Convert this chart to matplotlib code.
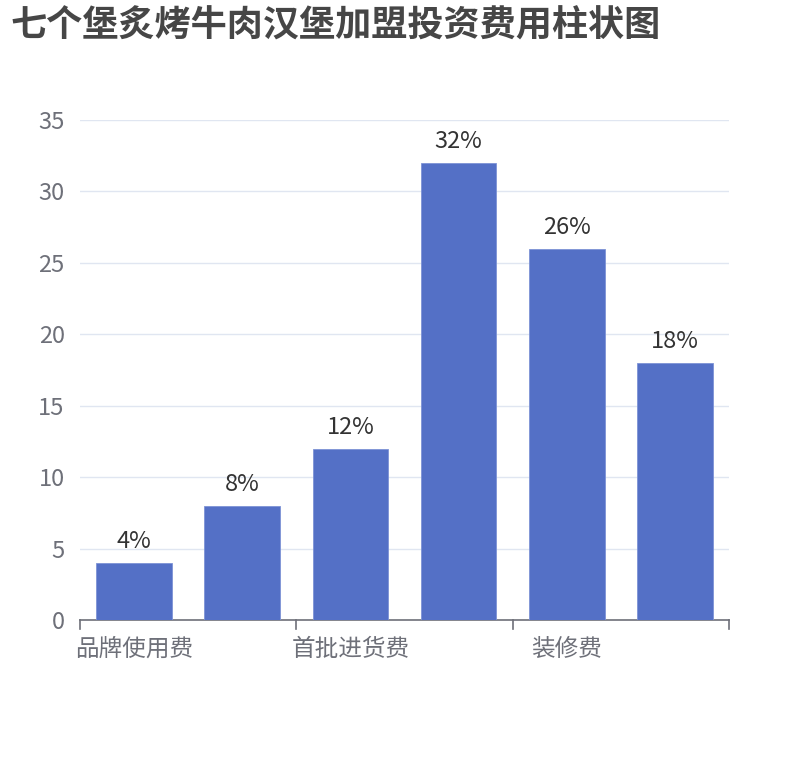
import matplotlib
matplotlib.use("Agg")
import matplotlib.pyplot as plt

plt.rcParams['font.family'] = ['Noto Sans CJK SC', 'DejaVu Sans']

# --- Data ---
title = "七个堡炙烤牛肉汉堡加盟投资费用柱状图"
categories = ["品牌使用费", "加盟费", "首批进货费", "设备费", "装修费", "流动资金"]
values = [4, 8, 12, 32, 26, 18]
value_labels = ["4%", "8%", "12%", "32%", "26%", "18%"]
y_ticks = [0, 5, 10, 15, 20, 25, 30, 35]

# --- Figure ---
fig = plt.figure(figsize=(8.1, 7.6), dpi=100)
ax = fig.add_axes([80 / 810, 1 - 620 / 760, (729 - 80) / 810, 500 / 760])

x = list(range(len(categories)))
bars = ax.bar(x, values, width=0.7, color="#5470c6", edgecolor="#7d93d6",
              linewidth=0.6, zorder=3)
for b, lab in zip(bars, value_labels):
    ax.annotate(lab, (b.get_x() + b.get_width() / 2, b.get_height()),
                xytext=(0, 7), textcoords="offset points",
                ha="center", va="bottom", fontsize=17, color="#333333")

ax.set_xlim(-0.5, len(categories) - 0.5)
ax.set_ylim(0, 35)
ax.set_yticks(y_ticks)
ax.yaxis.grid(True, color="#e0e6f1", linewidth=1, zorder=0)
ax.tick_params(axis="y", length=0, pad=11, labelsize=17, labelcolor="#6e7079")

# labels only every other category, ticks on boundaries
ax.set_xticks(x[::2])
ax.set_xticklabels(categories[::2])
ax.tick_params(axis="x", length=0, pad=13, labelsize=17, labelcolor="#6e7079")
for bx in [-0.5, 1.5, 3.5, 5.5]:
    ax.plot([bx, bx], [0, -0.018], transform=ax.get_xaxis_transform(),
            color="#6e7079", linewidth=1.2, clip_on=False)

for s in ["top", "right", "left"]:
    ax.spines[s].set_visible(False)
ax.spines["bottom"].set_color("#6e7079")
ax.spines["bottom"].set_linewidth(1.2)

fig.text(10 / 810, 1 - 26 / 760, title, fontsize=26, fontweight="bold",
         color="#464646", ha="left", va="center")

fig.savefig("out.png", dpi=100)
